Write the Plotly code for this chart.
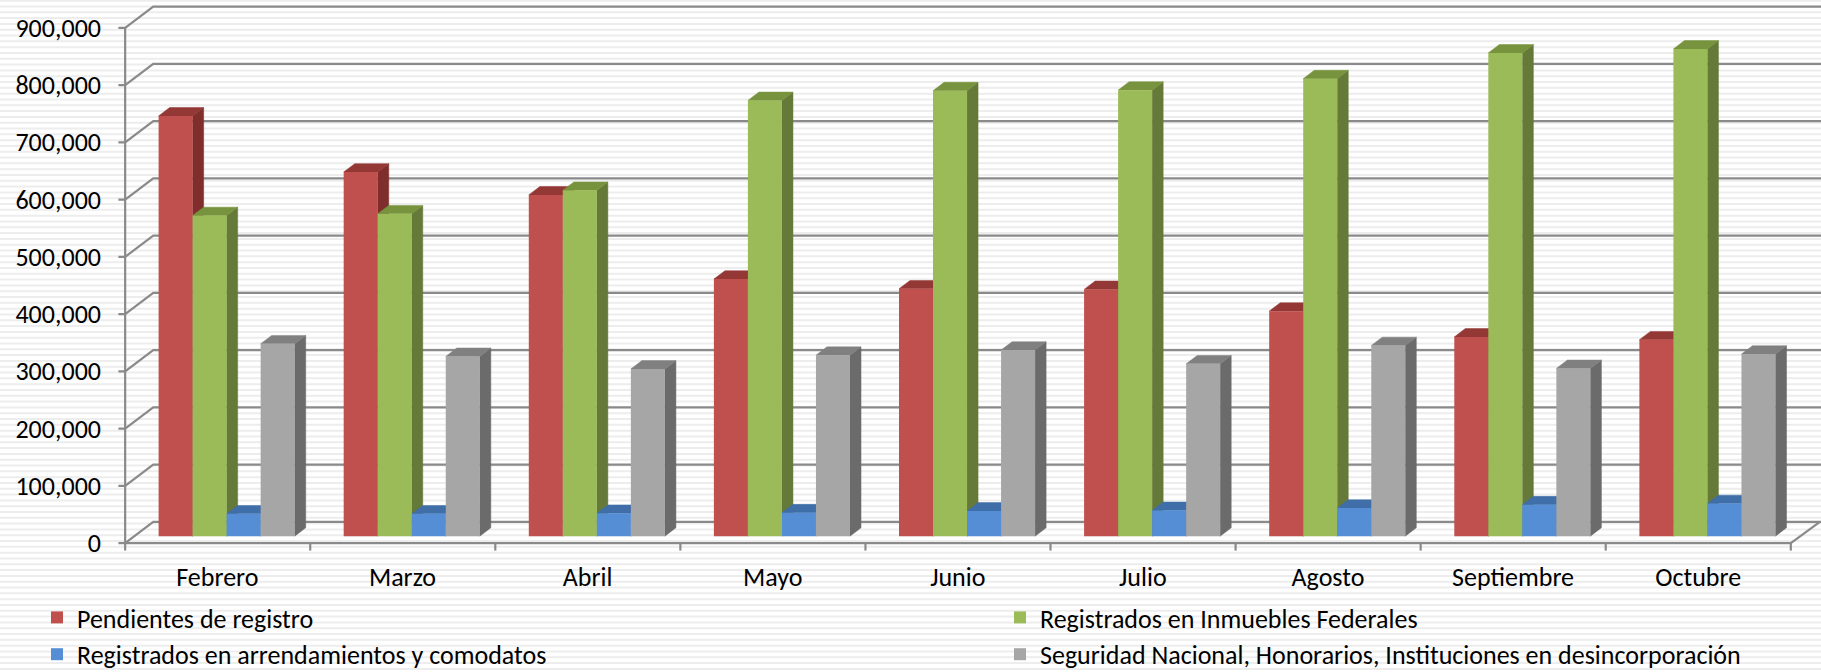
import plotly.graph_objects as go

# ---------------- data ----------------
months = ["Febrero", "Marzo", "Abril", "Mayo", "Junio", "Julio", "Agosto", "Septiembre", "Octubre"]
pendientes = [734000, 636000, 596000, 449000, 432000, 431000, 393000, 348000, 343000]
inmuebles = [560000, 563000, 604000, 761000, 778000, 779000, 799000, 844000, 851000]
arrendamientos = [39000, 39000, 40000, 41000, 44000, 45000, 49000, 55000, 57000]
seguridad = [336000, 314000, 292000, 316000, 325000, 301000, 333000, 293000, 318000]
series_names = [
    "Pendientes de registro",
    "Registrados en Inmuebles Federales",
    "Registrados en arrendamientos y comodatos",
    "Seguridad Nacional, Honorarios, Instituciones en desincorporación",
]
y_tick_values = [0, 100000, 200000, 300000, 400000, 500000, 600000, 700000, 800000, 900000]

# ---------------- styles ----------------
front_colors = ["#C0504D", "#9BBB59", "#558ED5", "#A6A6A6"]
side_colors = ["#7F2E2C", "#657A38", "#3A659F", "#6B6B6B"]
top_colors = ["#943836", "#77933D", "#3F6EA8", "#808080"]
legend_ids = ["legend", "legend2", "legend", "legend2"]
GRID_COLOR = "#8A8A8A"
FONT = "Carlito, Lato, sans-serif"
FONT_SIZE = 26

# ---------------- geometry (design px, scaled to output) ----------------
W, H = 1821, 672
DW = 1568.0
S = W / DW
DH = H / S
L, T, B = 98, 3, 478          # plot area in design px
CAT0_PX = 195.0
PX_PER_CAT = 159.4
ZERO_AX = 467.8               # front axis zero (design px)
ZERO_BAR = 461.8              # bar plane zero (design px)
PX_PER_VAL = 49.27 / 100000


def xu(px):
    return (px - CAT0_PX) / PX_PER_CAT


def yl(py):
    return (ZERO_AX - py) / PX_PER_VAL


def yb(py):
    return (ZERO_BAR - py) / PX_PER_VAL


BAR_W = 29.3 / PX_PER_CAT
DEPTH_X = 9.5 / PX_PER_CAT
DEPTH_Y = 7.2 / PX_PER_VAL
WALL_DY = 18.3 / PX_PER_VAL

series = [pendientes, inmuebles, arrendamientos, seguridad]
xs = list(range(len(months)))

fig = go.Figure()

# back wall gridlines with diagonal ticks (front-axis scale)
gx, gy = [], []
for v in y_tick_values:
    gx += [xu(101.8), xu(107.6), xu(131.8), xu(DW + 5), None]
    gy += [v, v, v + WALL_DY, v + WALL_DY, None]
# front vertical axis
gx += [xu(107.6), xu(107.6), None]
gy += [0, y_tick_values[-1], None]
# floor front edge and right diagonal
gx += [xu(107.6), xu(1542), xu(1567), None]
gy += [0, 0, WALL_DY, None]
# category boundary ticks
n = len(months)
for k in range(n + 1):
    xx = xu(107.6) + k * (xu(1542) - xu(107.6)) / n
    gx += [xx, xx, None]
    gy += [0, yl(474.2), None]
fig.add_trace(go.Scatter(x=gx, y=gy, mode="lines", line=dict(color=GRID_COLOR, width=2.2),
                         hoverinfo="skip", showlegend=False))

# 3D side and top faces (bar plane scale)
for k, vals in enumerate(series):
    sx, sy, tx, ty = [], [], [], []
    for i, v in zip(xs, vals):
        xl = i + (k - 2) * BAR_W
        xr = xl + BAR_W
        sx += [xr, xr + DEPTH_X, xr + DEPTH_X, xr, xr, None]
        sy += [0, DEPTH_Y, v + DEPTH_Y, v, 0, None]
        tx += [xl, xr, xr + DEPTH_X, xl + DEPTH_X, xl, None]
        ty += [v, v, v + DEPTH_Y, v + DEPTH_Y, v, None]
    fig.add_trace(go.Scatter(x=sx, y=sy, yaxis="y2", mode="lines", fill="toself",
                             fillcolor=side_colors[k], line=dict(color=side_colors[k], width=0.5),
                             hoverinfo="skip", showlegend=False, zorder=0))
    fig.add_trace(go.Scatter(x=tx, y=ty, yaxis="y2", mode="lines", fill="toself",
                             fillcolor=top_colors[k], line=dict(color=top_colors[k], width=0.5),
                             hoverinfo="skip", showlegend=False, zorder=0))

# front faces (bars)
for k, vals in enumerate(series):
    fig.add_trace(go.Bar(x=xs, y=vals, yaxis="y2", name=series_names[k], width=BAR_W,
                         offset=(k - 2) * BAR_W,
                         marker=dict(color=front_colors[k], line=dict(width=0)), zorder=1,
                         legend=legend_ids[k]))


# striped background
def pxp(px):
    return (px - L) / (DW - L)


def pyp(py):
    return 1 - (py - T) / (B - T)


path = ""
py = 1.0
while py < DH:
    path += f"M{pxp(-5):.5f},{pyp(py):.5f} L{pxp(DW + 5):.5f},{pyp(py):.5f} "
    py += 5
fig.add_shape(type="path", path=path, xref="paper", yref="paper",
              line=dict(color="#EDEDED", width=2), layer="below")

legend_common = dict(orientation="v", xref="container", yref="container",
                     xanchor="left", yanchor="top", font=dict(size=FONT_SIZE),
                     bgcolor="rgba(0,0,0,0)", tracegroupgap=0)

fig.update_layout(
    width=W, height=H,
    margin=dict(l=L * S, r=0, t=T * S, b=H - B * S, autoexpand=False),
    paper_bgcolor="white", plot_bgcolor="rgba(0,0,0,0)",
    barmode="overlay",
    font=dict(family=FONT, size=FONT_SIZE, color="#000000"),
    xaxis=dict(range=[xu(L), xu(DW)], tickmode="array", tickvals=[i - 0.05 for i in xs],
               ticktext=months, tickangle=0, showgrid=False, zeroline=False, showline=False,
               ticks="", ticklabelstandoff=4, fixedrange=True, automargin=False),
    yaxis=dict(range=[yl(B), yl(T)], tickmode="array", tickvals=y_tick_values, tickformat=",d",
               showgrid=False, zeroline=False, showline=False, ticks="", ticklabelstandoff=12,
               fixedrange=True, automargin=False),
    yaxis2=dict(range=[yb(B), yb(T)], overlaying="y", visible=False, showgrid=False,
                zeroline=False, fixedrange=True),
    legend=dict(x=37 / W, y=1 - 594 / H, **legend_common),
    legend2=dict(x=1000 / W, y=1 - 594 / H, **legend_common),
    showlegend=True,
)

fig.write_html("out.html", config={"displayModeBar": False},
               post_script="document.body.style.margin='0';document.body.style.overflow='hidden';")
